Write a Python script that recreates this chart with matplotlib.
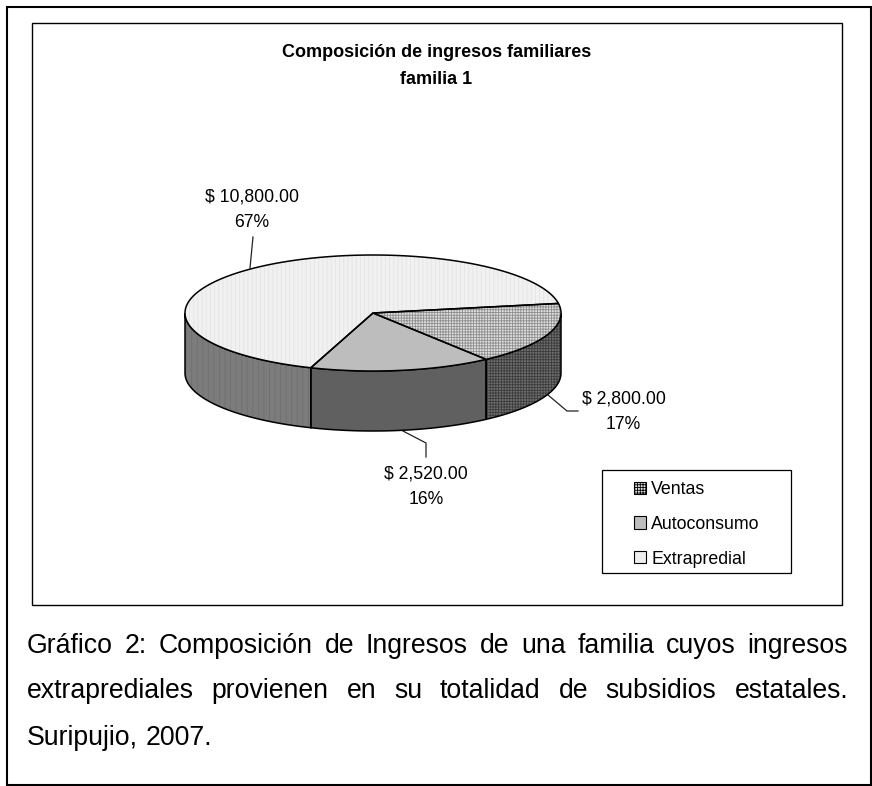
import numpy as np
import matplotlib
matplotlib.use("Agg")
import matplotlib.pyplot as plt
from matplotlib.patches import Patch, Rectangle

plt.rcParams['font.family'] = ['Liberation Sans', 'DejaVu Sans']
plt.rcParams['hatch.linewidth'] = 0.6

# datos
categorias = ['Ventas', 'Autoconsumo', 'Extrapredial']
valores = [2800, 2520, 10800]
porcentajes = [17, 16, 67]
titulo = 'Composición de ingresos familiares\nfamilia 1'
pie_lineas = [
    'Gráfico 2: Composición de Ingresos de una familia cuyos ingresos',
    'extraprediales provienen en su totalidad de subsidios estatales.',
    'Suripujio, 2007.',
]

# geometria de la torta (pixeles)
CX, CY, RX, RY, ALTO = 373, 313, 188, 58, 60
INICIO = 9.5  # grados, sentido horario


def elipse(a1, a2, dy=0):
    t = np.radians(np.linspace(a1, a2, 120))
    return CX + RX * np.cos(t), CY - RY * np.sin(t) + dy


fig = plt.figure(figsize=(8.72, 7.86), dpi=100)
ax = fig.add_axes([0, 0, 1, 1])
ax.set_xlim(0, 872)
ax.set_ylim(786, 0)
ax.axis('off')

# marcos
ax.add_patch(Rectangle((6.5, 7), 864.5, 777.5, fill=False, ec='black', lw=1.5))
ax.add_patch(Rectangle((31.5, 23), 810, 582, fill=False, ec='black', lw=1.0))

estilo_top = [
    dict(fc='#dedede', hatch='++++++', hc='#8f8f8f'),
    dict(fc='#bdbdbd', hatch=None, hc='#bdbdbd'),
    dict(fc='#f1f1f1', hatch='||||', hc='#e4e4e4'),
]
estilo_lado = [
    dict(fc='#6e6e6e', hatch='++++++', hc='#3c3c3c'),
    dict(fc='#606060', hatch=None, hc='#606060'),
    dict(fc='#7c7c7c', hatch='|||', hc='#707070'),
]

angulos = np.array(valores) / sum(valores) * 360
fin = INICIO - np.cumsum(angulos)
ini = np.concatenate([[INICIO], fin[:-1]])

# lados visibles
for a1, a2, st in zip(ini, fin, estilo_lado):
    v1, v2 = min(a1, 0), max(a2, -180)
    if v1 <= v2:
        continue
    x, y = elipse(v1, v2)
    xb, yb = elipse(v2, v1, ALTO)
    ax.fill(np.r_[x, xb], np.r_[y, yb], facecolor=st['fc'], hatch=st['hatch'],
            edgecolor=st['hc'], lw=0, zorder=2)
    ax.fill(np.r_[x, xb], np.r_[y, yb], fill=False, edgecolor='black', lw=1.1, zorder=3)

# cara superior
for a1, a2, st in zip(ini, fin, estilo_top):
    x, y = elipse(a1, a2)
    px, py = np.r_[CX, x, CX], np.r_[CY, y, CY]
    ax.fill(px, py, facecolor=st['fc'], hatch=st['hatch'], edgecolor=st['hc'], lw=0, zorder=4)
    ax.fill(px, py, fill=False, edgecolor='black', lw=1.1, zorder=5)

# lineas guia y etiquetas
ax.plot([250, 253], [268, 237], color='#222222', lw=0.9, zorder=1)
ax.plot([548, 567, 578], [395, 411, 411], color='#222222', lw=0.9, zorder=1)
ax.plot([403, 426, 426], [431, 443, 457], color='#222222', lw=0.9, zorder=1)

pos_etiquetas = [(623.5, 411.5), (426, 487), (252, 209.5)]
for v, p, (tx, ty) in zip(valores, porcentajes, pos_etiquetas):
    ax.text(tx, ty, f'$ {v:,.2f}\n{p}%', ha='center', va='center', fontsize=12.7,
            linespacing=1.67, color='black')

ax.text(436.5, 66, titulo, ha='center', va='center', fontsize=13, fontweight='bold',
        linespacing=1.7)

# leyenda: marco aparte, es mas ancho que su contenido
ax.add_patch(Rectangle((602, 470), 189, 103, fc='white', ec='black', lw=0.9, zorder=6))
legend_top = [estilo_top[0], estilo_top[1], dict(fc='#eeeeee', hatch=None)]
handles = []
for nombre, st in zip(categorias, legend_top):
    handles.append(Patch(facecolor=st['fc'], edgecolor='black', lw=0.8,
                         hatch=st['hatch'], label=nombre))
ley = ax.legend(handles=handles, loc='upper left', bbox_to_anchor=(634 / 872, 1 - 481 / 786),
                borderaxespad=0, borderpad=0, fontsize=12.8, frameon=False,
                handlelength=0.68, handleheight=0.68, handletextpad=0.28,
                labelspacing=1.0)
ley.set_zorder(7)

# texto al pie, justificado palabra por palabra
fig.canvas.draw()
rend = fig.canvas.get_renderer()
X0, X1 = 27, 848
baselines = [653, 698, 745]
for i, (linea, yb) in enumerate(zip(pie_lineas, baselines)):
    palabras = linea.split(' ')
    textos = [ax.text(0, yb, w, fontsize=19.2, va='baseline', ha='left', color='black')
              for w in palabras]
    anchos = [t.get_window_extent(rend).width for t in textos]
    if i < 2:
        hueco = (X1 - X0 - sum(anchos)) / (len(palabras) - 1)
    else:
        hueco = 7.4
    xx = X0
    for t, w in zip(textos, anchos):
        t.set_x(xx)
        xx += w + hueco

fig.savefig('out.png', dpi=100)
